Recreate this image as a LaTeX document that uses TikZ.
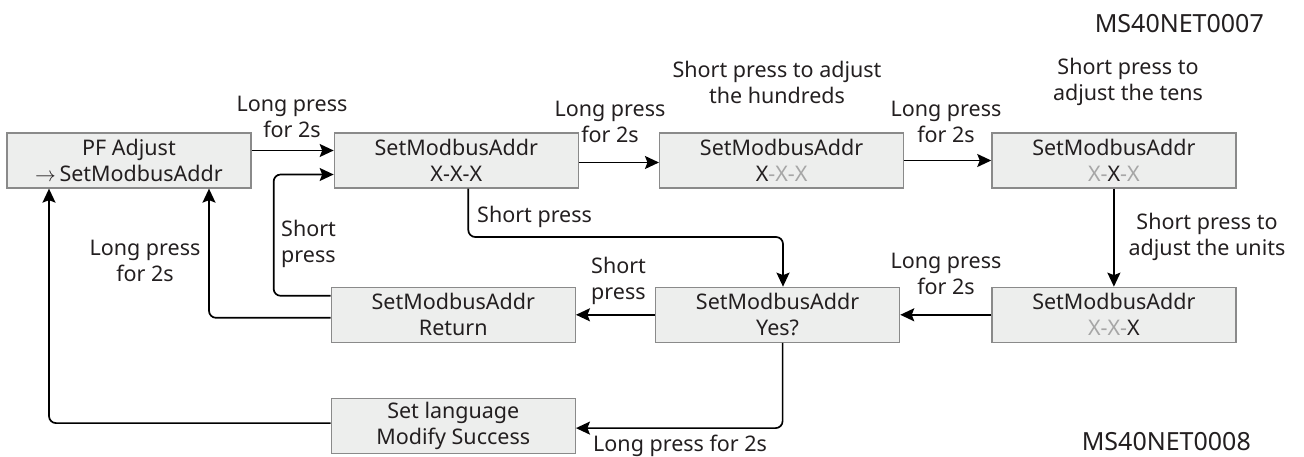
\documentclass[tikz,border=0pt]{standalone}
\usepackage{fontspec}
\setmainfont{Noto Sans}
\usepackage{xcolor}
\usetikzlibrary{arrows.meta, positioning}
\definecolor{cFill}{RGB}{237,238,237}
\definecolor{cEdge}{RGB}{138,138,138}
\definecolor{cInk}{RGB}{35,31,32}
\definecolor{cDim}{RGB}{166,166,166}
\tikzset{
	menu/.style={rectangle, draw=cEdge, line width=1.3pt, fill=cFill, minimum width=244pt, minimum height=55pt, align=center, inner sep=0pt, text=cInk},
	lbl/.style ={align=center, inner sep=0pt, text=cInk},
	% connectors
	sig/.style ={-{Stealth[length=14pt, width=13pt, inset=2.5pt]}, line width=1.7pt, rounded corners=7pt},
}

\begin{document}
\begin{tikzpicture}[x=1pt, y=-1pt, font=\fontsize{21.5}{26}\selectfont, node distance=80pt]
	\useasboundingbox (0,0) rectangle (1304,457);
	\node[menu] (pf) at (129,160.5) {PF Adjust\\$\rightarrow$\,SetModbusAddr};
	\node[menu, right=82pt of pf] (addr) {SetModbusAddr\\X-X-X};
	\node[menu, right=80pt of addr] (hund) {SetModbusAddr\\X\textcolor{cDim}{-X-X}};
	\node[menu, right=87pt of hund] (tens) {SetModbusAddr\\\textcolor{cDim}{X-}X\textcolor{cDim}{-X}};
	\node[menu, below=98pt of tens] (unit) {SetModbusAddr\\\textcolor{cDim}{X-X-}X};
	\node[menu, left=91pt of unit] (yes) {SetModbusAddr\\Yes?};
	\node[menu, left=79pt of yes] (ret) {SetModbusAddr\\Return};
	\node[menu, below=55pt of ret] (done) {Set language\\Modify Success};
	\coordinate (bend) at (783,237);
	% labels
	\node[lbl] (l1) at (292,117) {Long press\\for 2s};
	\node[lbl] (l2) at (610,122) {Long press\\for 2s};
	\node[lbl] (l3) at (946,122) {Long press\\for 2s};
	\node[lbl] (t1) at (777,82) {Short press to adjust\\the hundreds};
	\node[lbl] (t2) at (1128,82) {Short press to\\adjust the tens};
	\node[lbl] (t3) at (1207,237) {Short press to\\adjust the units};
	\node[lbl] (l4) at (946,274) {Long press\\for 2s};
	\node[lbl, anchor=west, align=left] (s1) at (591,281) {Short\\press};
	\node[lbl, anchor=west, align=left] (s2) at (281,244) {Short\\press};
	\node[lbl] (l5) at (145,261) {Long press\\for 2s};
	\node[lbl, anchor=base west] (s3) at (477,223) {Short press};
	\node[lbl, anchor=base west] (l6) at (593,451) {Long press for 2s};
	\node[lbl, anchor=base east, font=\fontsize{25}{30}\selectfont] (id1) at (1264,33) {MS40NET0007};
	\node[lbl, anchor=base east, font=\fontsize{25}{30}\selectfont] (id2) at (1251,450) {MS40NET0008};
	\draw[sig] ([yshift=10pt]pf.east) -- ([yshift=10pt]pf.east -| addr.west);
	\draw[sig] ([yshift=-2pt]addr.east) -- ([yshift=-2pt]addr.east -| hund.west); \draw[sig] (hund.east) -- (hund.east -| tens.west);
	\draw[sig] (tens.south) -- (tens.south |- unit.north); \draw[sig] (unit.west) -- (unit.west -| yes.east); \draw[sig] (yes.west) -- (yes.west -| ret.east);
	\draw[sig] ([xshift=12pt]addr.south) |- (bend) -- (bend |- yes.north);
	\draw[sig] ([yshift=19pt]ret.west) -- ++(-57,0) |- ([yshift=-14pt]addr.west);
	\draw[sig] ([yshift=-3pt]ret.west) -| ([xshift=80pt]pf.south);
	\draw[sig] ([yshift=3pt]done.west) -| ([xshift=-80pt]pf.south);
	\draw[sig] ([xshift=5pt]yes.south) |- ([yshift=-2pt]done.east);
\end{tikzpicture}
\end{document}
